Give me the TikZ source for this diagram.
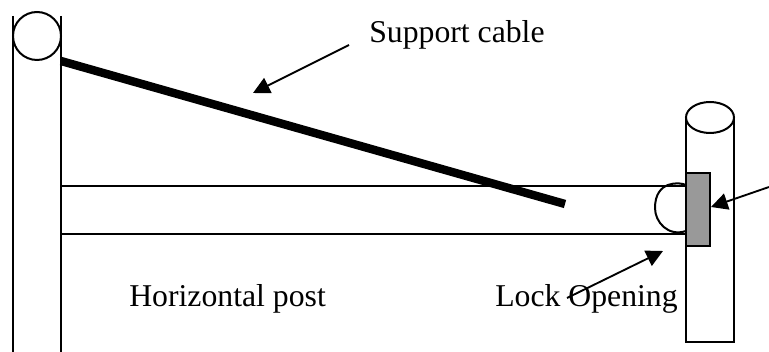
\documentclass[tikz,border=0pt]{standalone}
\usepackage{fontspec}
\setmainfont{Liberation Serif}
\usetikzlibrary{arrows.meta}
\tikzset{
  postline/.style={draw=black,line width=1.5pt},
  pointer/.style={draw=black,line width=1.4pt,-{Triangle[length=12.5pt,width=12.5pt]}},
  caption/.style={inner sep=0pt,anchor=base west,font=\fontsize{23.8}{28}\selectfont}
}
\begin{document}
\begin{tikzpicture}[x=0.75pt,y=-0.75pt]
  \useasboundingbox (0,0) rectangle (769,352);
  % left post
  \draw[postline] (13,16) -- (13,352);
  \draw[postline] (61,16) -- (61,352);
  \draw[postline] (37,36) circle (24);
  % right post
  \draw[postline] (686,117) -- (686,342) -- (734,342) -- (734,117);
  \draw[postline] (710,117.5) ellipse (24 and 15.5);
  % lock
  \draw[draw=black,line width=1.5pt,fill=black!40!white] (686,173) rectangle (710,246);
  % horizontal post
  \draw[postline] (61,186) -- (687,186);
  \draw[postline] (61,234) -- (687,234);
  \draw[postline] (686,185) .. controls (680,182) and (655,180) .. (655,208) .. controls (655,222) and (668,237) .. (686,231);
  % support cable
  \draw[draw=black,line width=6.3pt] (61,61) -- (565,204);
  % labels
  \node[caption] (cable) at (369,43) {Support cable};
  \node[caption] (post) at (129,307) {Horizontal post};
  \node[caption] (opening) at (495,307) {Lock Opening};
  % arrows
  \coordinate (cablefrom) at (349,45);
  \coordinate (cableto) at (253,93);
  \coordinate (openfrom) at (567,298);
  \coordinate (opento) at (663,251);
  \coordinate (lockfrom) at (769,187);
  \coordinate (lockto) at (711,207);
  \draw[pointer] (cablefrom) -- (cableto);
  \draw[pointer] (openfrom) -- (opento);
  \draw[pointer] (lockfrom) -- (lockto);
\end{tikzpicture}
\end{document}
